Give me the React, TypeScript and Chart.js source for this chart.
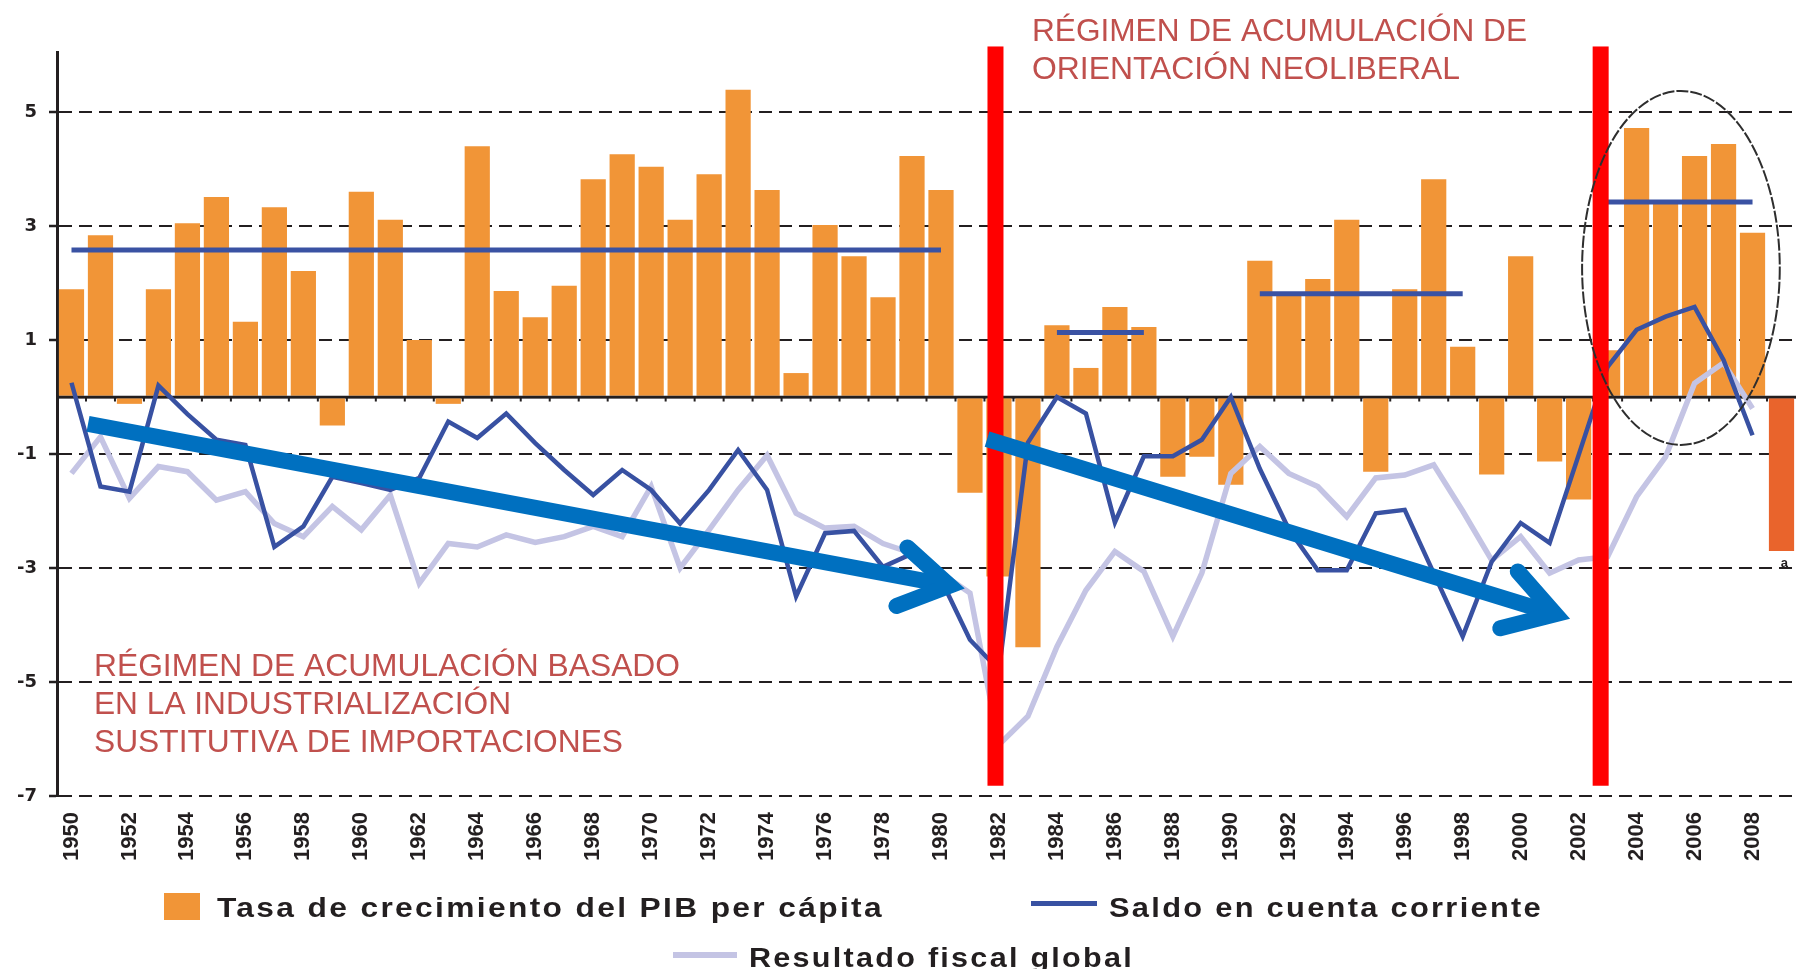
import React, { useEffect, useRef } from 'react';
import { Chart, registerables } from 'chart.js';

Chart.register(...registerables);

// ---------------- DATA ----------------
const YEARS = [
  '1950', '1951', '1952', '1953', '1954', '1955', '1956', '1957', '1958', '1959',
  '1960', '1961', '1962', '1963', '1964', '1965', '1966', '1967', '1968', '1969',
  '1970', '1971', '1972', '1973', '1974', '1975', '1976', '1977', '1978', '1979',
  '1980', '1981', '1982', '1983', '1984', '1985', '1986', '1987', '1988', '1989',
  '1990', '1991', '1992', '1993', '1994', '1995', '1996', '1997', '1998', '1999',
  '2000', '2001', '2002', '2003', '2004', '2005', '2006', '2007', '2008', '2009',
];

// Tasa de crecimiento del PIB per cápita (%)
const GDP_PC_GROWTH = [
  1.89, 2.84, -0.12, 1.89, 3.05, 3.51, 1.32, 3.33, 2.21, -0.5,
  3.6, 3.11, 1.0, -0.12, 4.4, 1.86, 1.4, 1.95, 3.82, 4.26,
  4.04, 3.11, 3.91, 5.39, 3.63, 0.42, 3.02, 2.47, 1.75, 4.23,
  3.63, -1.68, -3.15, -4.39, 1.26, 0.51, 1.58, 1.23, -1.4, -1.05,
  -1.54, 2.39, 1.79, 2.07, 3.11, -1.31, 1.89, 3.82, 0.88, -1.36,
  2.47, -1.13, -1.8, 0.82, 4.72, 3.39, 4.23, 4.44, 2.88, -2.7,
];

// Saldo en cuenta corriente (% PIB)
const CURRENT_ACCOUNT = [
  0.25, -1.57, -1.66, 0.2, -0.3, -0.75, -0.84, -2.63, -2.27, -1.4,
  -1.51, -1.63, -1.42, -0.43, -0.72, -0.29, -0.81, -1.28, -1.72, -1.28,
  -1.63, -2.22, -1.63, -0.93, -1.63, -3.5, -2.39, -2.35, -2.98, -2.75,
  -3.2, -4.26, -4.79, -0.8, 0.0, -0.29, -2.2, -1.04, -1.04, -0.75,
  0.0, -1.26, -2.32, -3.04, -3.04, -2.04, -1.98, -3.09, -4.2, -2.89,
  -2.21, -2.56, -1.02, 0.53, 1.18, 1.41, 1.58, 0.65, -0.67, null,
];

// Resultado fiscal global (% PIB)
const FISCAL_RESULT = [
  -1.34, -0.7, -1.78, -1.22, -1.31, -1.81, -1.66, -2.22, -2.45, -1.92,
  -2.33, -1.72, -3.27, -2.57, -2.63, -2.42, -2.55, -2.45, -2.27, -2.45,
  -1.57, -3.0, -2.33, -1.63, -1.02, -2.04, -2.3, -2.27, -2.57, -2.74,
  -3.09, -3.44, -6.1, -5.6, -4.38, -3.39, -2.71, -3.06, -4.2, -3.09,
  -1.34, -0.87, -1.34, -1.57, -2.1, -1.42, -1.37, -1.19, -2.0, -2.86,
  -2.45, -3.09, -2.86, -2.8, -1.75, -1.05, 0.24, 0.6, -0.2, null,
];

// Period averages of GDP per capita growth
const AVG_PERIOD_FROM = ['1950', '1984', '1991', '2003'];
const AVG_PERIOD_TO = ['1980', '1987', '1998', '2008'];
const AVG_PERIOD_VALUE = [2.58, 1.13, 1.81, 3.42];

const Y_TICKS = [-7, -5, -3, -1, 0, 1, 3, 5];
const X_TICK_LABELS = [
  '1950', '1952', '1954', '1956', '1958', '1960', '1962', '1964', '1966', '1968',
  '1970', '1972', '1974', '1976', '1978', '1980', '1982', '1984', '1986', '1988',
  '1990', '1992', '1994', '1996', '1998', '2000', '2002', '2004', '2006', '2008',
];
const PROJECTED_YEAR = '2009';

// Annotations (in data coordinates: fractional years, values)
const FIRST_YEAR = 1950;
const REGIME_BREAK_YEARS = [1981.88, 2002.76];
const REGIME_BREAK_SPAN = [6.15, -6.82];
const ARROW_FROM_YEAR = [1950.57, 1981.59];
const ARROW_FROM_VALUE = [-0.47, -0.74];
const ARROW_TO_YEAR = [1980.3, 2001.2];
const ARROW_TO_VALUE = [-3.31, -3.81];
const ELLIPSE_YEARS = [2002.12, 2008.94];
const ELLIPSE_VALUES = [5.37, -0.84];
const FOOTNOTE_YEAR = 2009.1;
const FOOTNOTE_VALUE = -2.92;

const SERIES_LABELS = [
  'Tasa de crecimiento del PIB per cápita',
  'Saldo en cuenta corriente',
  'Resultado fiscal global',
];
const NOTE_TOP = ['RÉGIMEN DE ACUMULACIÓN DE', 'ORIENTACIÓN NEOLIBERAL'];
const NOTE_BOTTOM = [
  'RÉGIMEN DE ACUMULACIÓN BASADO',
  'EN LA INDUSTRIALIZACIÓN',
  'SUSTITUTIVA DE IMPORTACIONES',
];

// ---------------- STYLE / LAYOUT ----------------
const W = 1796;
const H = 969;
const AXIS_COLOR = '#231F20';
const BAR_COLOR = '#F19537';
const BAR_COLOR_PROJ = '#E9642C';
const CA_COLOR = '#3851A2';
const FISCAL_COLOR = '#C4C4E4';
const AVG_COLOR = '#3A52A3';
const ARROW_COLOR = '#0070C0';
const BREAK_COLOR = '#FF0000';
const NOTE_COLOR = '#C0504D';
const ELLIPSE_COLOR = '#2e2e2e';

const NOTE_FONT = '31px "Liberation Sans", Arial, sans-serif';
const LEGEND_FONT = 'bold 27px "Liberation Sans", Arial, sans-serif';

const NOTE_TOP_LAYOUT = { x: 1032, baselines: [41, 79], widths: [495, 428] };
const NOTE_BOTTOM_LAYOUT = { x: 94, baselines: [676, 714, 752], widths: [586, 417, 529] };
const LEGEND_LAYOUT = {
  swatch: { x: 164, y: 893, w: 36, h: 27 },
  text1: { x: 217, base: 917, w: 667 },
  line2: { x1: 1031, x2: 1097, y: 903.5, width: 5 },
  text2: { x: 1109, base: 917, w: 434 },
  line3: { x1: 673, x2: 737, y: 955, width: 6 },
  text3: { x: 749, base: 966.5, w: 385 },
};

function fitText(
  ctx: CanvasRenderingContext2D,
  text: string,
  x: number,
  base: number,
  width: number,
  font: string,
  color: string,
  spacing = 0,
) {
  ctx.save();
  ctx.font = font;
  (ctx as any).letterSpacing = spacing + 'px';
  ctx.fillStyle = color;
  ctx.textAlign = 'left';
  ctx.textBaseline = 'alphabetic';
  const natural = ctx.measureText(text).width;
  ctx.translate(x, base);
  ctx.scale(width / natural, 1);
  ctx.fillText(text, 0, 0);
  ctx.restore();
}

function drawArrow(ctx: CanvasRenderingContext2D, x1: number, y1: number, x2: number, y2: number) {
  const ang = Math.atan2(y2 - y1, x2 - x1);
  const headAngle = (31.5 * Math.PI) / 180;
  const headLen = 57;
  ctx.save();
  ctx.strokeStyle = ARROW_COLOR;
  ctx.lineWidth = 16;
  ctx.setLineDash([]);
  ctx.lineCap = 'butt';
  ctx.beginPath();
  ctx.moveTo(x1, y1);
  ctx.lineTo(x2, y2);
  ctx.stroke();
  const a1 = ang + Math.PI - headAngle;
  const a2 = ang + Math.PI + headAngle;
  ctx.lineCap = 'round';
  ctx.lineJoin = 'miter';
  ctx.miterLimit = 10;
  ctx.beginPath();
  ctx.moveTo(x2 + headLen * Math.cos(a1), y2 + headLen * Math.sin(a1));
  ctx.lineTo(x2, y2);
  ctx.lineTo(x2 + headLen * Math.cos(a2), y2 + headLen * Math.sin(a2));
  ctx.stroke();
  ctx.restore();
}

const overlayPlugin = {
  id: 'regimeOverlay',
  afterDatasetDraw(chart: any, args: any) {
    if (args.index !== 0) return;
    const { ctx, chartArea } = chart;
    const x = chart.scales.x;
    const y = chart.scales.y;
    const y0 = y.getPixelForValue(0);
    ctx.save();
    ctx.setLineDash([]);
    ctx.strokeStyle = AXIS_COLOR;
    ctx.lineWidth = 2.5;
    ctx.beginPath();
    ctx.moveTo(chartArea.left, y0);
    ctx.lineTo(chartArea.right, y0);
    ctx.stroke();
    ctx.lineWidth = 2;
    for (let i = 1; i < YEARS.length; i++) {
      const px = x.getPixelForValue(i - 0.5);
      ctx.beginPath();
      ctx.moveTo(px, y0);
      ctx.lineTo(px, y0 + 4.5);
      ctx.stroke();
    }
    ctx.restore();
  },
  afterDatasetsDraw(chart: any) {
    const { ctx } = chart;
    const x = chart.scales.x;
    const y = chart.scales.y;
    ctx.save();

    // regime break lines
    ctx.fillStyle = BREAK_COLOR;
    REGIME_BREAK_YEARS.forEach((yr) => {
      const px = x.getPixelForValue(yr - FIRST_YEAR);
      const top = y.getPixelForValue(REGIME_BREAK_SPAN[0]);
      const bot = y.getPixelForValue(REGIME_BREAK_SPAN[1]);
      ctx.fillRect(px - 8, top, 16, bot - top);
    });

    // ellipse around 2003-2008
    const ex0 = x.getPixelForValue(ELLIPSE_YEARS[0] - FIRST_YEAR);
    const ex1 = x.getPixelForValue(ELLIPSE_YEARS[1] - FIRST_YEAR);
    const ey0 = y.getPixelForValue(ELLIPSE_VALUES[0]);
    const ey1 = y.getPixelForValue(ELLIPSE_VALUES[1]);
    ctx.save();
    ctx.strokeStyle = ELLIPSE_COLOR;
    ctx.lineWidth = 2;
    ctx.setLineDash([12, 2]);
    ctx.beginPath();
    ctx.ellipse((ex0 + ex1) / 2, (ey0 + ey1) / 2, (ex1 - ex0) / 2, (ey1 - ey0) / 2, 0, 0, Math.PI * 2);
    ctx.stroke();
    ctx.restore();

    // trend arrows
    for (let i = 0; i < ARROW_FROM_YEAR.length; i++) {
      drawArrow(
        ctx,
        x.getPixelForValue(ARROW_FROM_YEAR[i] - FIRST_YEAR),
        y.getPixelForValue(ARROW_FROM_VALUE[i]),
        x.getPixelForValue(ARROW_TO_YEAR[i] - FIRST_YEAR),
        y.getPixelForValue(ARROW_TO_VALUE[i]),
      );
    }

    // footnote mark on projected year
    ctx.fillStyle = AXIS_COLOR;
    ctx.font = 'bold 13px "Liberation Sans", Arial, sans-serif';
    ctx.textAlign = 'center';
    ctx.textBaseline = 'middle';
    ctx.fillText('a', x.getPixelForValue(FOOTNOTE_YEAR - FIRST_YEAR), y.getPixelForValue(FOOTNOTE_VALUE));

    // regime annotations
    NOTE_TOP.forEach((t, i) =>
      fitText(ctx, t, NOTE_TOP_LAYOUT.x, NOTE_TOP_LAYOUT.baselines[i], NOTE_TOP_LAYOUT.widths[i], NOTE_FONT, NOTE_COLOR),
    );
    NOTE_BOTTOM.forEach((t, i) =>
      fitText(ctx, t, NOTE_BOTTOM_LAYOUT.x, NOTE_BOTTOM_LAYOUT.baselines[i], NOTE_BOTTOM_LAYOUT.widths[i], NOTE_FONT, NOTE_COLOR),
    );

    // legend
    const L = LEGEND_LAYOUT;
    ctx.fillStyle = BAR_COLOR;
    ctx.fillRect(L.swatch.x, L.swatch.y, L.swatch.w, L.swatch.h);
    fitText(ctx, SERIES_LABELS[0], L.text1.x, L.text1.base, L.text1.w, LEGEND_FONT, AXIS_COLOR, 2);
    ctx.setLineDash([]);
    ctx.lineCap = 'butt';
    ctx.strokeStyle = CA_COLOR;
    ctx.lineWidth = L.line2.width;
    ctx.beginPath();
    ctx.moveTo(L.line2.x1, L.line2.y);
    ctx.lineTo(L.line2.x2, L.line2.y);
    ctx.stroke();
    fitText(ctx, SERIES_LABELS[1], L.text2.x, L.text2.base, L.text2.w, LEGEND_FONT, AXIS_COLOR, 2);
    ctx.strokeStyle = FISCAL_COLOR;
    ctx.lineWidth = L.line3.width;
    ctx.beginPath();
    ctx.moveTo(L.line3.x1, L.line3.y);
    ctx.lineTo(L.line3.x2, L.line3.y);
    ctx.stroke();
    fitText(ctx, SERIES_LABELS[2], L.text3.x, L.text3.base, L.text3.w, LEGEND_FONT, AXIS_COLOR, 2);

    ctx.restore();
  },
};

function periodSeries(k: number) {
  const from = YEARS.indexOf(AVG_PERIOD_FROM[k]);
  const to = YEARS.indexOf(AVG_PERIOD_TO[k]);
  return YEARS.map((_, i) => (i >= from && i <= to ? AVG_PERIOD_VALUE[k] : null));
}

export default function App() {
  const canvasRef = useRef<HTMLCanvasElement | null>(null);

  useEffect(() => {
    document.body.style.margin = '0';
    document.body.style.overflow = 'hidden';
    const canvas = canvasRef.current;
    if (!canvas) return;

    const avgDatasets = AVG_PERIOD_VALUE.map((_, k) => ({
      type: 'line' as const,
      label: 'Promedio ' + AVG_PERIOD_FROM[k] + '-' + AVG_PERIOD_TO[k],
      data: periodSeries(k),
      borderColor: AVG_COLOR,
      borderWidth: 5,
      borderCapStyle: 'butt' as const,
      pointRadius: 0,
      spanGaps: false,
      order: 3,
    }));

    const chart = new Chart(canvas, {
      type: 'bar',
      data: {
        labels: YEARS,
        datasets: [
          {
            type: 'bar',
            label: SERIES_LABELS[0],
            data: GDP_PC_GROWTH,
            backgroundColor: (c: any) => (YEARS[c.dataIndex] === PROJECTED_YEAR ? BAR_COLOR_PROJ : BAR_COLOR),
            borderWidth: 0,
            barPercentage: 0.87,
            categoryPercentage: 1,
            order: 10,
          },
          {
            type: 'line',
            label: SERIES_LABELS[2],
            data: FISCAL_RESULT,
            borderColor: FISCAL_COLOR,
            borderWidth: 5.5,
            pointRadius: 0,
            tension: 0,
            order: 2,
          },
          {
            type: 'line',
            label: SERIES_LABELS[1],
            data: CURRENT_ACCOUNT,
            borderColor: CA_COLOR,
            borderWidth: 4.5,
            pointRadius: 0,
            tension: 0,
            order: 1,
          },
          ...avgDatasets,
        ] as any,
      },
      options: {
        animation: false,
        responsive: false,
        maintainAspectRatio: false,
        devicePixelRatio: 1,
        layout: { padding: { top: 52, left: 0, right: 0, bottom: 0 } },
        plugins: {
          legend: { display: false },
          tooltip: { enabled: false },
          title: { display: false },
        },
        scales: {
          x: {
            type: 'category',
            offset: true,
            grid: {
              display: true,
              drawOnChartArea: false,
              drawTicks: true,
              tickLength: 16,
              color: 'rgba(0,0,0,0)',
              tickColor: 'rgba(0,0,0,0)',
            },
            border: { display: false },
            ticks: {
              autoSkip: false,
              minRotation: 90,
              maxRotation: 90,
              padding: 0,
              color: AXIS_COLOR,
              font: { family: '"Liberation Sans", Arial, sans-serif', size: 22, weight: 'bold' },
              callback: (_v: any, idx: number) => (X_TICK_LABELS.includes(YEARS[idx]) ? YEARS[idx] : null),
            },
            afterFit: (s: any) => {
              s.height = H - 796;
            },
          },
          y: {
            min: -7,
            max: 6.053,
            afterBuildTicks: (s: any) => {
              s.ticks = Y_TICKS.map((v) => ({ value: v }));
            },
            afterFit: (s: any) => {
              s.width = 57;
            },
            ticks: {
              padding: 12,
              color: AXIS_COLOR,
              font: { family: '"DejaVu Sans", sans-serif', size: 18, weight: 'bold' },
              callback: (v: any) => (v === 0 ? '' : String(v)),
            },
            grid: {
              color: AXIS_COLOR,
              lineWidth: (c: any) => (c.tick && c.tick.value === 0 ? 2.5 : 2),
              tickLength: 8,
              tickWidth: 2.5,
              tickColor: (c: any) => (c.tick && c.tick.value === 0 ? 'rgba(0,0,0,0)' : AXIS_COLOR),
            },
            border: {
              display: true,
              color: AXIS_COLOR,
              width: 3,
              dash: (c: any) => (c.tick && c.tick.value === 0 ? [] : [13, 7]),
            },
          },
        },
      } as any,
      plugins: [overlayPlugin],
    });

    return () => {
      chart.destroy();
    };
  }, []);

  return (
    <div style={{ position: 'relative', width: W, height: H }}>
      <canvas ref={canvasRef} width={W} height={H} style={{ display: 'block', width: W, height: H }} />
    </div>
  );
}
